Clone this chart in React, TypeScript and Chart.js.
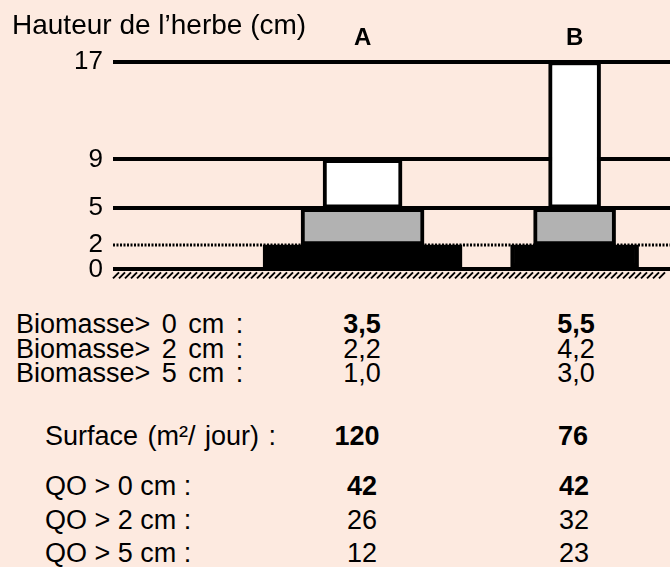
import React, { useEffect, useRef } from 'react';
import { Chart, registerables } from 'chart.js';

Chart.register(...registerables);

// ---------- data ----------
const categories = ['A', 'B'];
const yTickValues = [0, 2, 5, 9, 17];
const groundLayer = [[0, 2], [0, 2]];
const middleLayer = [[2, 5], [2, 5]];
const topLayer = [[5, 9], [5, 17]];
const dottedLevel = 2;

const yTitle = 'Hauteur de l’herbe (cm)';
const biomasseLabels = ['Biomasse> 0 cm :', 'Biomasse> 2 cm :', 'Biomasse> 5 cm :'];
const biomasseA = ['3,5', '2,2', '1,0'];
const biomasseB = ['5,5', '4,2', '3,0'];
const surfaceLabel = 'Surface (m²/ jour) :';
const surfaceValues = ['120', '76'];
const qoLabels = ['QO > 0 cm :', 'QO > 2 cm :', 'QO > 5 cm :'];
const qoA = ['42', '26', '12'];
const qoB = ['42', '32', '23'];

// ---------- styles ----------
const BG = '#FDEAE0';
const FONT = 'Arial, "Liberation Sans", sans-serif';
const layerStyles = [
  { data: groundLayer, color: '#000000', widths: [199, 128] },
  { data: middleLayer, color: '#B2B2B2', widths: [123, 82] },
  { data: topLayer, color: '#FFFFFF', widths: [79, 52] },
];

const groundPlugin = {
  id: 'groundPlugin',
  beforeDatasetsDraw(chart: any) {
    const { ctx, chartArea, scales } = chart;
    const py = Math.round(scales.y.getPixelForValue(dottedLevel));
    ctx.save();
    ctx.strokeStyle = '#000';
    ctx.lineWidth = 3;
    ctx.setLineDash([2, 1.5]);
    ctx.beginPath();
    ctx.moveTo(chartArea.left, py);
    ctx.lineTo(chartArea.right, py);
    ctx.stroke();
    ctx.restore();
  },
  afterDraw(chart: any) {
    const { ctx, chartArea, scales } = chart;
    const py = scales.y.getPixelForValue(0);
    ctx.save();
    ctx.strokeStyle = '#000';
    ctx.lineWidth = 2;
    ctx.beginPath();
    for (let x = chartArea.left; x < chartArea.right - 8; x += 6) {
      ctx.moveTo(x, py + 9);
      ctx.lineTo(x + 6, py + 3);
    }
    ctx.stroke();
    ctx.restore();
  },
};

function ChartCanvas() {
  const ref = useRef<HTMLCanvasElement | null>(null);
  useEffect(() => {
    if (!ref.current) return;
    const datasets: any[] = [];
    layerStyles.forEach((layer) => {
      categories.forEach((c, i) => {
        datasets.push({
          label: c,
          data: [{ x: i, y: layer.data[i] }],
          backgroundColor: layer.color,
          borderColor: '#000000',
          borderWidth: 4,
          borderSkipped: false,
          barThickness: layer.widths[i],
          grouped: false,
        });
      });
    });
    const chart = new Chart(ref.current, {
      type: 'bar',
      data: { datasets },
      options: {
        animation: false,
        responsive: true,
        maintainAspectRatio: false,
        layout: { padding: { left: 0, right: 0, top: 0, bottom: 22.5 } },
        plugins: { legend: { display: false }, tooltip: { enabled: false }, title: { display: false } },
        scales: {
          x: {
            type: 'linear',
            position: 'top',
            offset: false,
            min: -1.177,
            max: 1.45,
            grid: { display: false, drawTicks: false },
            border: { display: false },
            afterBuildTicks: (scale: any) => {
              scale.ticks = categories.map((_, i) => ({ value: i }));
            },
            afterFit: (scale: any) => {
              scale.height = 61.5;
            },
            ticks: {
              callback: (v: any) => categories[v as number] ?? '',
              color: '#000',
              font: { family: FONT, size: 24, weight: 'bold' },
              padding: 9,
              maxRotation: 0,
              autoSkip: false,
            },
          },
          y: {
            type: 'linear',
            min: 0,
            max: 17,
            afterBuildTicks: (scale: any) => {
              scale.ticks = yTickValues.map((v) => ({ value: v }));
            },
            afterFit: (scale: any) => {
              scale.width = 113;
            },
            grid: {
              color: (ctx: any) => (ctx.tick && ctx.tick.value === dottedLevel ? 'rgba(0,0,0,0)' : '#000'),
              lineWidth: 4,
              drawTicks: false,
            },
            border: { display: false },
            ticks: {
              color: '#000',
              font: { family: FONT, size: 26 },
              padding: 10,
              autoSkip: false,
            },
          },
        },
      },
      plugins: [groundPlugin],
    } as any);
    return () => chart.destroy();
  }, []);
  return <canvas ref={ref} />;
}

const textStyle: React.CSSProperties = {
  position: 'absolute',
  height: 30,
  lineHeight: '30px',
  fontSize: 27,
  fontFamily: FONT,
  color: '#000',
  whiteSpace: 'nowrap',
};

function Label({ x, cy, text, ws = 0, size = 27 }: { x: number; cy: number; text: string; ws?: number; size?: number }) {
  return <div style={{ ...textStyle, fontSize: size, left: x, top: cy - 15, wordSpacing: ws }}>{text}</div>;
}

function Value({ cx, cy, text, bold }: { cx: number; cy: number; text: string; bold?: boolean }) {
  return (
    <div style={{ ...textStyle, left: cx - 60, width: 120, textAlign: 'center', top: cy - 15, fontWeight: bold ? 'bold' : 'normal' }}>
      {text}
    </div>
  );
}

export default function App() {
  useEffect(() => {
    document.body.style.margin = '0';
    document.body.style.background = BG;
  }, []);
  const colA = 362;
  const colB = 576;
  const bioY = [324, 349, 373];
  const surfY = 436;
  const qoY = [486, 520, 553];
  return (
    <div style={{ position: 'relative', width: 670, height: 567, background: BG, overflow: 'hidden' }}>
      <div style={{ position: 'absolute', left: 0, top: 0, width: 670, height: 295 }}>
        <ChartCanvas />
      </div>
      <Label x={12} cy={25} text={yTitle} size={28} />
      {biomasseLabels.map((t, i) => (
        <React.Fragment key={'b' + i}>
          <Label x={16} cy={bioY[i]} text={t} ws={4} />
          <Value cx={colA} cy={bioY[i]} text={biomasseA[i]} bold={i === 0} />
          <Value cx={colB} cy={bioY[i]} text={biomasseB[i]} bold={i === 0} />
        </React.Fragment>
      ))}
      <Label x={45} cy={surfY} text={surfaceLabel} ws={2} />
      <Value cx={colA - 5} cy={surfY} text={surfaceValues[0]} bold />
      <Value cx={colB - 3} cy={surfY} text={surfaceValues[1]} bold />
      {qoLabels.map((t, i) => (
        <React.Fragment key={'q' + i}>
          <Label x={45} cy={qoY[i]} text={t} />
          <Value cx={colA} cy={qoY[i]} text={qoA[i]} bold={i === 0} />
          <Value cx={colB - 2} cy={qoY[i]} text={qoB[i]} bold={i === 0} />
        </React.Fragment>
      ))}
    </div>
  );
}
